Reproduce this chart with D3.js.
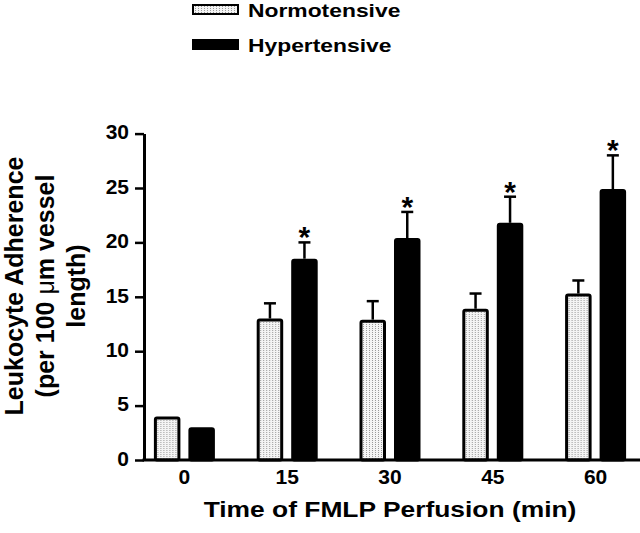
<!DOCTYPE html>
<html>
<head>
<meta charset="utf-8">
<script src="https://cdn.jsdelivr.net/npm/d3@7"></script>
<style>
  body { margin: 0; background: #fff; }
  svg { display: block; font-family: "Liberation Sans", Arial, Helvetica, sans-serif; }
</style>
</head>
<body>
<svg id="chart" width="640" height="533"></svg>
<script>
const categories = ["0", "15", "30", "45", "60"];
const seriesNames = ["Normotensive", "Hypertensive"];
const normotensive = [4.0, 13.0, 12.9, 13.9, 15.3];
const normotensiveErr = [0, 1.4, 1.7, 1.4, 1.2];
const hypertensive = [3.0, 18.5, 20.4, 21.8, 24.9];
const hypertensiveErr = [0, 1.5, 2.4, 2.4, 3.1];
const significant = [false, true, true, true, true];
const yTicks = [0, 5, 10, 15, 20, 25, 30];

const svg = d3.select("#chart");

// dotted fill used for the normotensive bars
const pat = svg.append("defs").append("pattern")
  .attr("id", "dots")
  .attr("width", 3)
  .attr("height", 2)
  .attr("patternUnits", "userSpaceOnUse");
pat.append("rect").attr("width", 3).attr("height", 2).attr("fill", "#f4f4f4");
pat.append("rect").attr("width", 1).attr("height", 1).attr("fill", "#9a9a9a");

const y = d3.scaleLinear().domain([0, 30]).range([460, 133.6]);
const x = d3.scaleBand().domain(categories).range([133, 647]);
const xs = d3.scaleBand().domain(seriesNames).range([-30.5, 30.5]).paddingInner(0.232);

const rows = categories.map((c, i) => ({
  cat: c,
  bars: [
    {name: "Normotensive", v: normotensive[i], e: normotensiveErr[i], star: false},
    {name: "Hypertensive", v: hypertensive[i], e: hypertensiveErr[i], star: significant[i]}
  ]
}));

const groups = svg.selectAll("g.grp")
  .data(rows)
  .enter()
    .append("g")
    .attr("class", "grp")
    .attr("transform", d => `translate(${x(d.cat) + x.bandwidth() / 2},0)`);

const bar = groups.selectAll("g.bar")
  .data(d => d.bars)
  .enter()
    .append("g")
    .attr("class", "bar");

// error bars (upper only), skipped when there is nothing to show
const eb = bar.filter(d => d.e > 0);
eb.append("line")
  .attr("x1", d => xs(d.name) + xs.bandwidth() / 2)
  .attr("x2", d => xs(d.name) + xs.bandwidth() / 2)
  .attr("y1", d => y(d.v))
  .attr("y2", d => y(d.v + d.e))
  .attr("stroke", "#000")
  .attr("stroke-width", 2.5);

eb.append("line")
  .attr("x1", d => xs(d.name) + xs.bandwidth() / 2 - 6)
  .attr("x2", d => xs(d.name) + xs.bandwidth() / 2 + 6)
  .attr("y1", d => y(d.v + d.e))
  .attr("y2", d => y(d.v + d.e))
  .attr("stroke", "#000")
  .attr("stroke-width", 2.5);

bar.append("rect")
  .attr("x", d => xs(d.name) + 1.5)
  .attr("y", d => y(d.v) + 1.5)
  .attr("width", xs.bandwidth() - 3)
  .attr("height", d => y(0) - y(d.v) - 1.5)
  .attr("rx", 1.5)
  .attr("fill", d => d.name === "Normotensive" ? "url(#dots)" : "#000")
  .attr("stroke", "#000")
  .attr("stroke-width", 3);

bar.filter(d => d.star)
  .append("text")
  .attr("x", d => xs(d.name) + xs.bandwidth() / 2)
  .attr("y", d => y(d.v + d.e) + 5)
  .attr("text-anchor", "middle")
  .style("font-size", "30px")
  .style("font-weight", "bold")
  .text("*");

// axes
const yAxis = svg.append("g")
  .attr("transform", "translate(144,0)")
  .call(d3.axisLeft(y).tickValues(yTicks).tickSize(9).tickPadding(6).tickSizeOuter(0));
yAxis.select(".domain").attr("stroke-width", 3);
yAxis.selectAll(".tick line").attr("stroke-width", 2.5);
yAxis.selectAll(".tick text")
  .attr("dy", "0.25em")
  .style("font-size", "21px")
  .style("font-weight", "bold")
  .attr("fill", "#000");

svg.append("line")
  .attr("x1", 142.5)
  .attr("x2", 640)
  .attr("y1", y(0))
  .attr("y2", y(0))
  .attr("stroke", "#000")
  .attr("stroke-width", 3);

const xAxis = svg.append("g")
  .attr("transform", `translate(0,${y(0)})`)
  .call(d3.axisBottom(x).tickSize(0).tickPadding(8));
xAxis.select(".domain").remove();
xAxis.selectAll(".tick text")
  .attr("dy", "0.75em")
  .style("font-size", "21px")
  .style("font-weight", "bold")
  .attr("fill", "#000");

// titles
svg.append("text")
  .attr("transform", "translate(390,517) scale(1.2,1)")
  .attr("text-anchor", "middle")
  .style("font-size", "22px")
  .style("font-weight", "bold")
  .text("Time of FMLP Perfusion (min)");

const yTitle = svg.append("text")
  .attr("transform", "translate(0,286) rotate(-90)")
  .attr("text-anchor", "middle")
  .style("font-size", "25px")
  .style("font-weight", "bold");
yTitle.append("tspan").attr("x", 0).attr("y", 23).text("Leukocyte Adherence");
const l2 = yTitle.append("tspan").attr("x", 0).attr("y", 54);
l2.append("tspan").text("(per 100 ");
l2.append("tspan").style("font-weight", "normal").text("μ");
l2.append("tspan").text("m vessel");
yTitle.append("tspan").attr("x", 0).attr("y", 85).text("length)");

// legend
const legend = svg.append("g").attr("class", "legend");
const item = legend.selectAll("g")
  .data(seriesNames)
  .enter()
    .append("g")
    .attr("transform", (d, i) => `translate(192,${4 + i * 35})`);

item.append("rect")
  .attr("x", 1)
  .attr("y", 1)
  .attr("width", 45)
  .attr("height", 9)
  .attr("fill", d => d === "Normotensive" ? "url(#dots)" : "#000")
  .attr("stroke", "#000")
  .attr("stroke-width", 2);

item.append("text")
  .attr("transform", "translate(56,12.7) scale(1.27,1)")
  .style("font-size", "18px")
  .style("font-weight", "bold")
  .text(d => d);
</script>
</body>
</html>
